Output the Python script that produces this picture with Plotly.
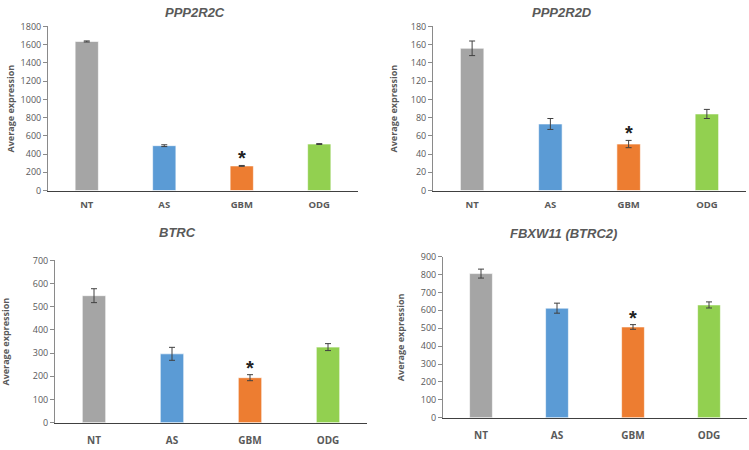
import plotly.graph_objects as go

categories = ["NT", "AS", "GBM", "ODG"]
colors = ["#A5A5A5", "#5B9BD5", "#ED7D31", "#92D050"]

titles = ["PPP2R2C", "PPP2R2D", "BTRC", "FBXW11 (BTRC2)"]
ppp2r2c = [1635, 492, 270, 510]
ppp2r2c_err = [6, 10, 5, 5]
ppp2r2d = [156, 73, 51, 84]
ppp2r2d_err = [8, 6, 4, 5]
btrc = [548, 297, 194, 326]
btrc_err = [30, 28, 13, 15]
fbxw11 = [805, 612, 507, 630]
fbxw11_err = [25, 28, 13, 17]

values = [ppp2r2c, ppp2r2d, btrc, fbxw11]
errors = [ppp2r2c_err, ppp2r2d_err, btrc_err, fbxw11_err]
ymax = [1800, 180, 700, 900]
dticks = [200, 20, 100, 100]

W, H = 749, 450
# panel pixel boxes: (left, right, top, bottom)
boxes = [(48, 358, 20, 189), (433, 746, 20, 189), (55, 367, 261, 428), (443, 747, 257, 423)]
title_pos = [(195, 6), (562, 6), (177, 232), (563, 233)]
ytitle_x = [10, 393, 6, 400]
xfont = [9.5, 9.5, 10, 10]
xstand = [5, 5, 8, 8]

FONT = "Open Sans, Arial"
fig = go.Figure()
axis_color = "#595959"
for i in range(4):
    l, r, t, b = boxes[i]
    xa = "x" if i == 0 else f"x{i+1}"
    ya = "y" if i == 0 else f"y{i+1}"
    fig.add_trace(go.Bar(
        x=categories, y=values[i], xaxis=xa, yaxis=ya,
        marker=dict(color=colors, line=dict(color="rgba(255,255,255,0.6)", width=1)),
        width=0.3,
        error_y=dict(type="data", array=errors[i], color="#404040", thickness=1, width=3),
        showlegend=False, hoverinfo="skip",
    ))
    key = "" if i == 0 else str(i + 1)
    fig.layout["xaxis" + key] = dict(
        domain=[l / W, r / W], anchor=ya, showline=True, linecolor="#404040", linewidth=1,
        ticks="", showgrid=False, zeroline=False, ticklabelstandoff=xstand[i],
        tickfont=dict(family=FONT, size=xfont[i], color=axis_color, weight="bold"),
    )
    fig.layout["yaxis" + key] = dict(
        domain=[1 - b / H, 1 - t / H], anchor=xa, range=[0, ymax[i]], dtick=dticks[i],
        showline=True, linecolor="#8a8a8a", linewidth=1, ticks="outside", ticklen=4,
        tickcolor="#8a8a8a", showgrid=False, zeroline=False,
        tickfont=dict(family=FONT, size=9, color=axis_color),
    )
    # title
    tx, ty = title_pos[i]
    fig.add_annotation(x=tx / W, y=1 - ty / H, xref="paper", yref="paper",
                       xanchor="center", yanchor="middle",
                       text=f"<b><i>{titles[i]}</i></b>", showarrow=False,
                       font=dict(family="Liberation Sans, Arial", size=13, color=axis_color))
    # y title
    fig.add_annotation(x=ytitle_x[i] / W, y=1 - (t + b) / 2 / H, xref="paper", yref="paper",
                       xanchor="center", yanchor="middle",
                       text="<b>Average expression</b>", textangle=-90, showarrow=False,
                       font=dict(family=FONT, size=9, color=axis_color))
    # significance star above GBM
    fig.add_annotation(x="GBM", y=values[i][2] + errors[i][2], xref=xa, yref=ya,
                       text="<b>*</b>", showarrow=False, yshift=7, yanchor="middle",
                       font=dict(family="Arial", size=20, color="#222222"))

fig.update_layout(
    width=W, height=H, margin=dict(l=0, r=0, t=0, b=0),
    paper_bgcolor="white", plot_bgcolor="white",
    font=dict(family=FONT),
)
fig.write_html("out.html", config={"displayModeBar": False},
               post_script="document.body.style.margin='0';")
